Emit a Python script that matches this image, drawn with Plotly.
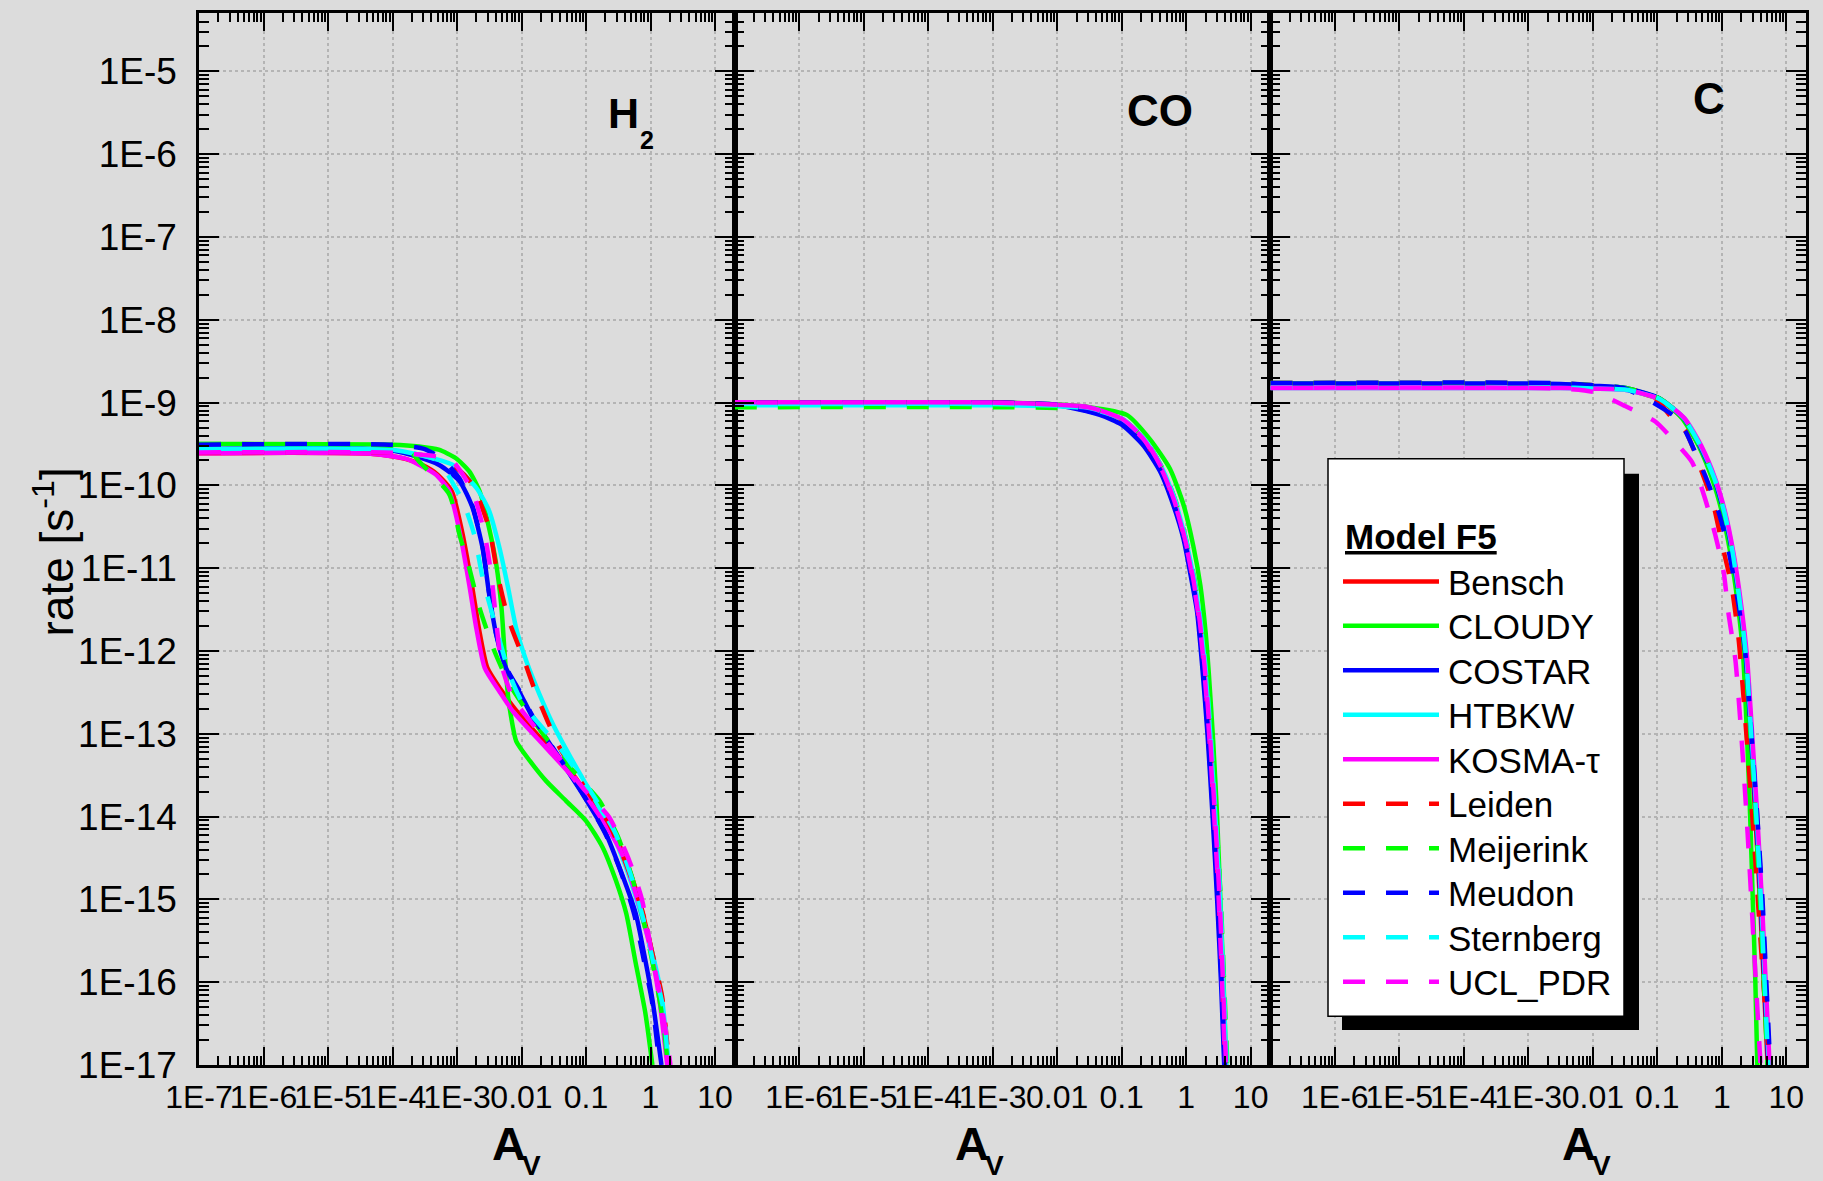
import plotly.graph_objects as go

# ---------------- series metadata ----------------
NAMES = ["Bensch", "CLOUDY", "COSTAR", "HTBKW", "KOSMA-τ",
         "Leiden", "Meijerink", "Meudon", "Sternberg", "UCL_PDR"]
COLORS = ["#ff0000", "#00ff00", "#0000ff", "#00ffff", "#ff00ff",
          "#ff0000", "#00ff00", "#0000ff", "#00ffff", "#ff00ff"]
DASHES = ["solid"] * 5 + ["22px,21px"] * 5

PANEL_LABELS = ["H", "CO", "C"]
X_TICKVALS = [1e-7, 1e-6, 1e-5, 1e-4, 1e-3, 1e-2, 1e-1, 1, 10]
X_TICKTEXT = ["1E-7", "1E-6", "1E-5", "1E-4", "1E-3", "0.01", "0.1", "1", "10"]
Y_TICKVALS = [1e-17, 1e-16, 1e-15, 1e-14, 1e-13, 1e-12, 1e-11, 1e-10, 1e-9, 1e-8, 1e-7, 1e-6, 1e-5]
Y_TICKTEXT = ["1E-17", "1E-16", "1E-15", "1E-14", "1E-13", "1E-12", "1E-11", "1E-10",
              "1E-9", "1E-8", "1E-7", "1E-6", "1E-5"]

# ---------------- H2 panel ----------------
H2_BENSCH_AV = [1e-7, 5.0e-5, 1.58e-4, 2.82e-4, 5.0e-4, 8.3e-4, 1.2e-3, 1.7e-3, 2.19e-3, 2.95e-3, 4.8e-3, 7.9e-3, 0.025, 0.063, 0.115, 0.234, 0.372, 0.603, 1.0, 1.38, 1.86]
H2_BENSCH_RATE = [2.45e-10, 2.4e-10, 2.09e-10, 1.78e-10, 1.35e-10, 8.5e-11, 2.75e-11, 6.3e-12, 1.86e-12, 6.3e-13, 3.4e-13, 2.0e-13, 7.2e-14, 3.2e-14, 1.66e-14, 7.2e-15, 3.7e-15, 1.26e-15, 2.8e-16, 7.1e-17, 1e-17]
H2_CLOUDY_AV = [1e-7, 1e-4, 2.57e-4, 5.2e-4, 9.5e-4, 1.55e-3, 2.24e-3, 3.16e-3, 4.07e-3, 4.9e-3, 5.5e-3, 6.2e-3, 6.9e-3, 8.3e-3, 1.35e-2, 2.4e-2, 4.9e-2, 0.1, 0.18, 0.29, 0.42, 0.59, 0.83, 1.07]
H2_CLOUDY_RATE = [3.16e-10, 3.1e-10, 2.95e-10, 2.7e-10, 2.14e-10, 1.48e-10, 8.5e-11, 3.0e-11, 1.1e-11, 3.3e-12, 8.9e-13, 2.8e-13, 1.6e-13, 8.1e-14, 4.7e-14, 2.7e-14, 1.55e-14, 8.9e-15, 4.3e-15, 1.7e-15, 6.8e-16, 1.7e-16, 4.3e-17, 1e-17]
H2_COSTAR_AV = [1e-7, 1e-4, 5.2e-4, 1.1e-3, 1.74e-3, 2.5e-3, 3.16e-3, 4.07e-3, 5.75e-3, 9.3e-3, 1.51e-2, 2.4e-2, 8.9e-2, 0.204, 0.363, 0.589, 0.83, 1.07, 1.48]
H2_COSTAR_RATE = [2.75e-10, 2.63e-10, 1.78e-10, 1.12e-10, 5.4e-11, 1.74e-11, 4.8e-12, 1.55e-12, 6.2e-13, 3.2e-13, 1.55e-13, 8.9e-14, 1.86e-14, 6.2e-15, 2.0e-15, 6.8e-16, 1.86e-16, 6.2e-17, 1e-17]
H2_HTBKW_AV = [1e-7, 1e-4, 2.57e-4, 8.5e-4, 2.0e-3, 3.16e-3, 4.57e-3, 6.2e-3, 8.3e-3, 1.2e-2, 1.9e-2, 3.1e-2, 7.1e-2, 0.141, 0.257, 0.417, 0.661, 1.07, 1.51, 1.91]
H2_HTBKW_RATE = [2.75e-10, 2.7e-10, 2.34e-10, 1.78e-10, 9.3e-11, 4.9e-11, 1.74e-11, 5.8e-12, 1.86e-12, 7.4e-13, 3.0e-13, 1.29e-13, 3.9e-14, 1.55e-14, 6.2e-15, 2.45e-15, 8.1e-16, 2.24e-16, 6.2e-17, 1e-17]
H2_KOSMA_AV = [1e-7, 5.0e-5, 1.58e-4, 2.57e-4, 4.7e-4, 7.6e-4, 1.1e-3, 1.55e-3, 2.0e-3, 2.7e-3, 4.6e-3, 7.4e-3, 0.024, 0.062, 0.112, 0.229, 0.363, 0.589, 1.0, 1.35, 1.82]
H2_KOSMA_RATE = [2.45e-10, 2.4e-10, 2.1e-10, 1.78e-10, 1.35e-10, 8.5e-11, 2.75e-11, 6.3e-12, 1.86e-12, 6.2e-13, 3.2e-13, 1.86e-13, 6.8e-14, 3.0e-14, 1.55e-14, 6.8e-15, 3.5e-15, 1.17e-15, 2.5e-16, 6.8e-17, 1e-17]
H2_LEIDEN_AV = [1e-7, 1e-4, 3.7e-4, 1e-3, 1.74e-3, 3.16e-3, 4.27e-3, 6.2e-3, 1.12e-2, 1.7e-2, 3.9e-2, 8.9e-2, 0.229, 0.417, 0.741, 1.07, 1.51, 1.95]
H2_LEIDEN_RATE = [2.5e-10, 2.48e-10, 2.24e-10, 1.6e-10, 1.02e-10, 3.0e-11, 8.3e-12, 2.5e-12, 7.4e-13, 3.0e-13, 6.8e-14, 2.45e-14, 8.1e-15, 2.7e-15, 7.4e-16, 2.24e-16, 6.8e-17, 1e-17]
H2_MEIJERINK_AV = [1e-7, 1e-4, 2.0e-4, 2.57e-4, 7.6e-4, 1.1e-3, 1.55e-3, 2.24e-3, 3.8e-3, 6.6e-3, 2.4e-2, 7.1e-2, 0.162, 0.316, 0.525, 0.83, 1.2, 1.58, 1.86]
H2_MEIJERINK_RATE = [3.16e-10, 2.9e-10, 2.45e-10, 1.95e-10, 7.8e-11, 2.5e-11, 1e-11, 3.3e-12, 1e-12, 3.9e-13, 8.9e-14, 3.2e-14, 1.55e-14, 5.6e-15, 1.78e-15, 4.5e-16, 1.12e-16, 3.2e-17, 1e-17]
H2_MEUDON_AV = [1e-7, 1e-4, 3.16e-4, 6.3e-4, 1.1e-3, 1.74e-3, 2.5e-3, 3.16e-3, 4.07e-3, 5.75e-3, 9.3e-3, 1.51e-2, 2.4e-2, 8.9e-2, 0.204, 0.363, 0.562, 0.794, 1.05, 1.38]
H2_MEUDON_RATE = [3.1e-10, 3.1e-10, 2.75e-10, 2.0e-10, 1.2e-10, 5.6e-11, 1.8e-11, 5.0e-12, 1.6e-12, 6.4e-13, 3.3e-13, 1.6e-13, 9.1e-14, 1.9e-14, 6.0e-15, 1.95e-15, 6.5e-16, 1.8e-16, 6.0e-17, 1e-17]
H2_STERNBERG_AV = [1e-7, 1e-4, 5.0e-4, 9.5e-4, 1.23e-3, 1.86e-3, 2.5e-3, 4.07e-3, 6.6e-3, 1.07e-2, 3.9e-2, 0.126, 0.288, 0.525, 0.83, 1.2, 1.62, 1.86]
H2_STERNBERG_RATE = [2.7e-10, 2.65e-10, 2.0e-10, 9.3e-11, 6.5e-11, 2.5e-11, 7.6e-12, 1.86e-12, 5.1e-13, 2.24e-13, 6.8e-14, 1.86e-14, 6.2e-15, 1.7e-15, 4.7e-16, 1.29e-16, 4.3e-17, 1e-17]
H2_UCL_AV = [1e-7, 1e-4, 4.7e-4, 8.5e-4, 1.74e-3, 2.7e-3, 3.4e-3, 4.07e-3, 4.9e-3, 7.4e-3, 2.5e-2, 0.1, 0.229, 0.468, 0.741, 1.0, 1.35, 1.7, 2.04]
H2_UCL_RATE = [2.5e-10, 2.48e-10, 2.24e-10, 1.95e-10, 8.5e-11, 2.5e-11, 8.3e-12, 2.24e-12, 6.8e-13, 2.7e-13, 7.9e-14, 2.0e-14, 9.8e-15, 2.95e-15, 9.8e-16, 2.7e-16, 8.1e-17, 2.7e-17, 1e-17]

# ---------------- CO panel ----------------
CO_BENSCH_AV = [1e-7, 1e-3, 1e-2, 3.16e-2, 0.1, 0.224, 0.417, 0.661, 0.955, 1.26, 1.58, 1.91, 2.29, 2.75, 3.24, 3.63, 4.07]
CO_BENSCH_RATE = [1e-9, 1e-9, 9.3e-10, 8.7e-10, 6.3e-10, 3.55e-10, 1.58e-10, 6.3e-11, 2.24e-11, 7.9e-12, 2.5e-12, 6.3e-13, 1e-13, 1e-14, 1e-15, 1e-16, 1e-17]
CO_CLOUDY_AV = [1e-7, 1e-3, 1e-2, 2.88e-2, 0.12, 0.275, 0.562, 0.912, 1.29, 1.66, 2.0, 2.24, 2.63, 3.02, 3.39, 3.8, 4.17]
CO_CLOUDY_RATE = [1e-9, 1e-9, 9.5e-10, 8.9e-10, 7.1e-10, 3.6e-10, 1.58e-10, 5.8e-11, 1.86e-11, 6.2e-12, 1.7e-12, 5.5e-13, 7.9e-14, 1e-14, 1e-15, 1e-16, 1e-17]
CO_COSTAR_AV = [1e-7, 1e-3, 1e-2, 4.57e-2, 0.1, 0.219, 0.398, 0.631, 0.912, 1.15, 1.48, 1.78, 2.14, 2.57, 3.02, 3.47, 3.89]
CO_COSTAR_RATE = [1e-9, 1e-9, 9.3e-10, 7.1e-10, 5.4e-10, 3.0e-10, 1.45e-10, 5.8e-11, 2.24e-11, 8.9e-12, 2.95e-12, 6.3e-13, 1e-13, 1e-14, 1e-15, 1e-16, 1e-17]
CO_HTBKW_AV = [1e-7, 1e-3, 1e-2, 3.2e-2, 0.102, 0.23, 0.43, 0.68, 0.98, 1.3, 1.63, 1.97, 2.36, 2.84, 3.35, 3.76, 4.2]
CO_HTBKW_RATE = [9.3e-10, 9.3e-10, 9.0e-10, 8.5e-10, 6.3e-10, 3.55e-10, 1.58e-10, 6.3e-11, 2.24e-11, 7.9e-12, 2.5e-12, 6.3e-13, 1e-13, 1e-14, 1e-15, 1e-16, 1e-17]
CO_KOSMA_AV = [1e-7, 1e-3, 1e-2, 3.1e-2, 0.098, 0.22, 0.41, 0.65, 0.94, 1.24, 1.56, 1.89, 2.27, 2.72, 3.2, 3.6, 4.02]
CO_KOSMA_RATE = [1e-9, 1e-9, 9.4e-10, 8.8e-10, 6.4e-10, 3.6e-10, 1.6e-10, 6.4e-11, 2.3e-11, 8.1e-12, 2.6e-12, 6.5e-13, 1e-13, 1e-14, 1e-15, 1e-16, 1e-17]
CO_LEIDEN_AV = [1e-7, 1e-3, 1e-2, 3.16e-2, 0.1, 0.224, 0.42, 0.67, 0.96, 1.27, 1.6, 1.93, 2.31, 2.78, 3.27, 3.68, 4.1]
CO_LEIDEN_RATE = [1e-9, 1e-9, 9.3e-10, 8.6e-10, 6.2e-10, 3.5e-10, 1.55e-10, 6.2e-11, 2.2e-11, 7.8e-12, 2.5e-12, 6.3e-13, 1e-13, 1e-14, 1e-15, 1e-16, 1e-17]
CO_MEIJERINK_AV = [1e-7, 1e-3, 1e-2, 3.3e-2, 0.105, 0.235, 0.44, 0.7, 1.0, 1.33, 1.67, 2.02, 2.42, 2.92, 3.44, 3.88, 4.35]
CO_MEIJERINK_RATE = [8.8e-10, 8.8e-10, 8.6e-10, 8.2e-10, 6.2e-10, 3.5e-10, 1.55e-10, 6.2e-11, 2.2e-11, 7.8e-12, 2.5e-12, 6.3e-13, 1e-13, 1e-14, 1e-15, 1e-16, 1e-17]
CO_MEUDON_AV = [1e-7, 1e-3, 1e-2, 4.5e-2, 0.1, 0.22, 0.40, 0.64, 0.93, 1.18, 1.51, 1.82, 2.19, 2.63, 3.09, 3.55, 3.98]
CO_MEUDON_RATE = [1e-9, 1e-9, 9.4e-10, 7.3e-10, 5.6e-10, 3.1e-10, 1.5e-10, 6.0e-11, 2.3e-11, 9.0e-12, 3.0e-12, 6.3e-13, 1e-13, 1e-14, 1e-15, 1e-16, 1e-17]
CO_STERNBERG_AV = [1e-7, 1e-3, 1e-2, 3.2e-2, 0.104, 0.232, 0.435, 0.69, 0.99, 1.31, 1.65, 2.0, 2.4, 2.88, 3.4, 3.82, 4.27]
CO_STERNBERG_RATE = [9.6e-10, 9.6e-10, 9.2e-10, 8.6e-10, 6.3e-10, 3.55e-10, 1.58e-10, 6.3e-11, 2.24e-11, 7.9e-12, 2.5e-12, 6.3e-13, 1e-13, 1e-14, 1e-15, 1e-16, 1e-17]
CO_UCL_AV = [1e-7, 1e-3, 1e-2, 3.16e-2, 0.1, 0.226, 0.42, 0.665, 0.96, 1.27, 1.6, 1.94, 2.33, 2.8, 3.3, 3.72, 4.15]
CO_UCL_RATE = [1.01e-9, 1.0e-9, 9.4e-10, 8.7e-10, 6.4e-10, 3.6e-10, 1.6e-10, 6.3e-11, 2.24e-11, 7.9e-12, 2.5e-12, 6.3e-13, 1e-13, 1e-14, 1e-15, 1e-16, 1e-17]

# ---------------- C panel ----------------
C_BENSCH_AV = [1e-7, 3.16e-3, 1e-2, 3.2e-2, 0.105, 0.245, 0.45, 0.74, 1.04, 1.41, 1.86, 2.29, 2.75, 3.31, 3.89, 4.47, 5.13]
C_BENSCH_RATE = [1.6e-9, 1.6e-9, 1.55e-9, 1.45e-9, 1.1e-9, 6.5e-10, 3.0e-10, 1.2e-10, 4.8e-11, 1.55e-11, 3.55e-12, 8.7e-13, 1e-13, 1e-14, 1e-15, 1e-16, 1e-17]
C_CLOUDY_AV = [1e-7, 3.16e-3, 1e-2, 3.24e-2, 0.107, 0.24, 0.437, 0.708, 1.0, 1.35, 1.78, 2.14, 2.45, 2.75, 3.02, 3.31, 3.55]
C_CLOUDY_RATE = [1.7e-9, 1.66e-9, 1.58e-9, 1.48e-9, 1.12e-9, 6.5e-10, 3.0e-10, 1.2e-10, 4.8e-11, 1.55e-11, 3.55e-12, 8.7e-13, 1e-13, 1e-14, 1e-15, 1e-16, 1e-17]
C_COSTAR_AV = [1e-7, 3.16e-3, 1e-2, 3.24e-2, 0.107, 0.251, 0.457, 0.759, 1.07, 1.45, 1.91, 2.34, 2.82, 3.39, 3.98, 4.57, 5.25]
C_COSTAR_RATE = [1.7e-9, 1.68e-9, 1.6e-9, 1.5e-9, 1.13e-9, 6.6e-10, 3.0e-10, 1.2e-10, 4.8e-11, 1.55e-11, 3.55e-12, 8.7e-13, 1e-13, 1e-14, 1e-15, 1e-16, 1e-17]
C_HTBKW_AV = [1e-7, 3.16e-3, 1e-2, 3.3e-2, 0.11, 0.258, 0.47, 0.78, 1.1, 1.48, 1.95, 2.4, 2.88, 3.47, 4.07, 4.68, 5.37]
C_HTBKW_RATE = [1.5e-9, 1.5e-9, 1.47e-9, 1.42e-9, 1.1e-9, 6.5e-10, 3.0e-10, 1.2e-10, 4.8e-11, 1.55e-11, 3.55e-12, 8.7e-13, 1e-13, 1e-14, 1e-15, 1e-16, 1e-17]
C_KOSMA_AV = [1e-7, 3.16e-3, 1e-2, 3.3e-2, 0.11, 0.262, 0.48, 0.79, 1.12, 1.51, 2.0, 2.45, 2.95, 3.55, 4.17, 4.79, 5.5]
C_KOSMA_RATE = [1.5e-9, 1.5e-9, 1.47e-9, 1.42e-9, 1.1e-9, 6.5e-10, 3.0e-10, 1.2e-10, 4.8e-11, 1.55e-11, 3.55e-12, 8.7e-13, 1e-13, 1e-14, 1e-15, 1e-16, 1e-17]
C_LEIDEN_AV = [1e-7, 3.16e-3, 1e-2, 5.0e-2, 0.1, 0.17, 0.275, 0.49, 0.741, 1.0, 1.41, 1.82, 2.4, 3.16, 3.98, 4.79, 5.5]
C_LEIDEN_RATE = [1.72e-9, 1.7e-9, 1.62e-9, 1.38e-9, 1.05e-9, 6.5e-10, 4.5e-10, 1.45e-10, 5.8e-11, 2.0e-11, 6.2e-12, 1.4e-12, 1e-13, 5e-15, 3.2e-16, 4e-17, 1e-17]
C_MEIJERINK_AV = [1e-7, 3.16e-3, 1e-2, 3.24e-2, 0.107, 0.25, 0.455, 0.75, 1.06, 1.43, 1.89, 2.3, 2.78, 3.33, 3.9, 4.47, 5.1]
C_MEIJERINK_RATE = [1.72e-9, 1.7e-9, 1.62e-9, 1.5e-9, 1.13e-9, 6.6e-10, 3.0e-10, 1.2e-10, 4.8e-11, 1.55e-11, 3.55e-12, 8.7e-13, 1e-13, 1e-14, 1e-15, 1e-16, 1e-17]
C_MEUDON_AV = [1e-7, 3.16e-3, 1e-2, 3.0e-2, 8.3e-2, 0.2, 0.275, 0.55, 0.89, 1.26, 1.82, 2.34, 2.88, 3.55, 4.27, 4.9, 5.62]
C_MEUDON_RATE = [1.72e-9, 1.72e-9, 1.62e-9, 1.5e-9, 1.02e-9, 6.5e-10, 4.47e-10, 1.32e-10, 4.8e-11, 1.7e-11, 3.55e-12, 8.7e-13, 1e-13, 1e-14, 1e-15, 1e-16, 1e-17]
C_STERNBERG_AV = [1e-7, 3.16e-3, 1e-2, 3.3e-2, 0.11, 0.255, 0.465, 0.77, 1.09, 1.47, 1.93, 2.37, 2.85, 3.43, 4.03, 4.6, 5.25]
C_STERNBERG_RATE = [1.52e-9, 1.52e-9, 1.48e-9, 1.43e-9, 1.1e-9, 6.5e-10, 3.0e-10, 1.2e-10, 4.8e-11, 1.55e-11, 3.55e-12, 8.7e-13, 1e-13, 1e-14, 1e-15, 1e-16, 1e-17]
C_UCL_AV = [1e-7, 3.16e-3, 1e-2, 3.16e-2, 9.3e-2, 0.191, 0.347, 0.55, 0.794, 1.07, 1.26, 1.62, 2.0, 2.51, 3.16, 3.98]
C_UCL_RATE = [1.51e-9, 1.48e-9, 1.35e-9, 9.1e-10, 5.9e-10, 3.3e-10, 1.9e-10, 6.9e-11, 2.5e-11, 8.9e-12, 2.95e-12, 7.9e-13, 1e-13, 6.3e-15, 2.5e-16, 1e-17]

PANELS = [
    [(H2_BENSCH_AV, H2_BENSCH_RATE), (H2_CLOUDY_AV, H2_CLOUDY_RATE), (H2_COSTAR_AV, H2_COSTAR_RATE),
     (H2_HTBKW_AV, H2_HTBKW_RATE), (H2_KOSMA_AV, H2_KOSMA_RATE), (H2_LEIDEN_AV, H2_LEIDEN_RATE),
     (H2_MEIJERINK_AV, H2_MEIJERINK_RATE), (H2_MEUDON_AV, H2_MEUDON_RATE),
     (H2_STERNBERG_AV, H2_STERNBERG_RATE), (H2_UCL_AV, H2_UCL_RATE)],
    [(CO_BENSCH_AV, CO_BENSCH_RATE), (CO_CLOUDY_AV, CO_CLOUDY_RATE), (CO_COSTAR_AV, CO_COSTAR_RATE),
     (CO_HTBKW_AV, CO_HTBKW_RATE), (CO_KOSMA_AV, CO_KOSMA_RATE), (CO_LEIDEN_AV, CO_LEIDEN_RATE),
     (CO_MEIJERINK_AV, CO_MEIJERINK_RATE), (CO_MEUDON_AV, CO_MEUDON_RATE),
     (CO_STERNBERG_AV, CO_STERNBERG_RATE), (CO_UCL_AV, CO_UCL_RATE)],
    [(C_BENSCH_AV, C_BENSCH_RATE), (C_CLOUDY_AV, C_CLOUDY_RATE), (C_COSTAR_AV, C_COSTAR_RATE),
     (C_HTBKW_AV, C_HTBKW_RATE), (C_KOSMA_AV, C_KOSMA_RATE), (C_LEIDEN_AV, C_LEIDEN_RATE),
     (C_MEIJERINK_AV, C_MEIJERINK_RATE), (C_MEUDON_AV, C_MEUDON_RATE),
     (C_STERNBERG_AV, C_STERNBERG_RATE), (C_UCL_AV, C_UCL_RATE)],
]

# ---------------- layout geometry (pixels) ----------------
W, H = 1823, 1181
PL, PR, PT, PB = 199, 1806, 10, 1065
FONT = "Arial, Liberation Sans, sans-serif"
BG = "#dcdcdc"


def fx(x):
    return (x - PL) / (PR - PL)


def fy(y):
    return (PB - y) / (PB - PT)


X_MINOR = [k * 10.0 ** n for n in range(-7, 2) for k in range(2, 10) if k * 10.0 ** n < 19.9]
Y_MINOR = [k * 10.0 ** n for n in range(-17, -4) for k in range(2, 10) if k * 10.0 ** n < 5.06e-5]

fig = go.Figure()
for p, series in enumerate(PANELS):
    xa = "x" if p == 0 else f"x{p + 1}"
    ya = "y" if p == 0 else f"y{p + 1}"
    for i, (av, rate) in enumerate(series):
        fig.add_trace(go.Scatter(
            x=av, y=rate, mode="lines", name=NAMES[i], showlegend=False,
            xaxis=xa, yaxis=ya,
            line=dict(color=COLORS[i], width=4.5, dash=DASHES[i], shape="spline", smoothing=0.6),
            hoverinfo="skip"))

layout = dict(
    width=W, height=H,
    margin=dict(l=PL, r=W - PR, t=PT, b=H - PB, pad=0),
    paper_bgcolor=BG, plot_bgcolor=BG,
    showlegend=False,
    font=dict(family=FONT, color="black"),
)

for p in range(3):
    xkey = "xaxis" if p == 0 else f"xaxis{p + 1}"
    ykey = "yaxis" if p == 0 else f"yaxis{p + 1}"
    xname = "x" if p == 0 else f"x{p + 1}"
    yname = "y" if p == 0 else f"y{p + 1}"
    tv = X_TICKVALS if p == 0 else X_TICKVALS[1:]
    tt = X_TICKTEXT if p == 0 else X_TICKTEXT[1:]
    layout[xkey] = dict(
        type="log", range=[-7, 1.305], domain=[p / 3, (p + 1) / 3], anchor=yname,
        showline=True, linecolor="black", linewidth=2.5, mirror="allticks",
        ticks="inside", ticklen=18, tickwidth=2, tickcolor="black",
        tickmode="array", tickvals=tv, ticktext=tt, tickangle=0,
        tickfont=dict(family=FONT, size=32, color="black"), ticklabelstandoff=2,
        showgrid=True, gridcolor="#b4b4b4", griddash="dot", gridwidth=1.5, zeroline=False,
        minor=dict(ticks="inside", ticklen=9, tickwidth=1.5, tickcolor="black",
                   tickmode="array", tickvals=X_MINOR, showgrid=False),
    )
    layout[ykey] = dict(
        type="log", range=[-17, -4.295], domain=[0, 1], anchor=xname,
        showline=True, linecolor="black", linewidth=2.5, mirror="allticks",
        ticks="inside", ticklen=20, tickwidth=2, tickcolor="black",
        tickmode="array", tickvals=Y_TICKVALS, ticktext=Y_TICKTEXT,
        showticklabels=(p == 0),
        tickfont=dict(family=FONT, size=37, color="black"), ticklabelstandoff=12,
        showgrid=True, gridcolor="#b4b4b4", griddash="dot", gridwidth=1.5, zeroline=False,
        minor=dict(ticks="inside", ticklen=10, tickwidth=1.5, tickcolor="black",
                   tickmode="array", tickvals=Y_MINOR, showgrid=False),
    )

fig.update_layout(**layout)

annotations = []
# y axis title
annotations.append(dict(text="rate [s<sup>-1</sup>]", x=fx(54), y=fy(551), xref="paper", yref="paper",
                        xanchor="center", yanchor="middle", textangle=-90, showarrow=False,
                        font=dict(family=FONT, size=46, color="black")))
# x axis titles A_V
for a_left in [494, 957, 1564]:
    annotations.append(dict(text="<b>A</b>", x=fx(a_left - 4), y=fy(1115), xref="paper", yref="paper",
                            xanchor="left", yanchor="top", showarrow=False,
                            font=dict(family=FONT, size=47, color="black")))
    annotations.append(dict(text="<b>V</b>", x=fx(a_left + 26), y=fy(1148), xref="paper", yref="paper",
                            xanchor="left", yanchor="top", showarrow=False,
                            font=dict(family=FONT, size=28, color="black")))
# panel labels
annotations.append(dict(text="<b>" + PANEL_LABELS[0] + "</b>", x=fx(606), y=fy(84), xref="paper", yref="paper",
                        xanchor="left", yanchor="top", showarrow=False, font=dict(family=FONT, size=43, color="black")))
annotations.append(dict(text="<b>2</b>", x=fx(638), y=fy(121), xref="paper", yref="paper",
                        xanchor="left", yanchor="top", showarrow=False, font=dict(family=FONT, size=25, color="black")))
annotations.append(dict(text="<b>" + PANEL_LABELS[1] + "</b>", x=fx(1125), y=fy(81), xref="paper", yref="paper",
                        xanchor="left", yanchor="top", showarrow=False, font=dict(family=FONT, size=44, color="black")))
annotations.append(dict(text="<b>" + PANEL_LABELS[2] + "</b>", x=fx(1691), y=fy(69), xref="paper", yref="paper",
                        xanchor="left", yanchor="top", showarrow=False, font=dict(family=FONT, size=44, color="black")))

# legend (drawn manually)
shapes = []
shapes.append(dict(type="rect", xref="paper", yref="paper", x0=fx(1342), x1=fx(1639), y0=fy(1030), y1=fy(472),
                   fillcolor="black", line=dict(width=0), layer="above"))
shapes.append(dict(type="rect", xref="paper", yref="paper", x0=fx(1328), x1=fx(1624), y0=fy(1016), y1=fy(457),
                   fillcolor="white", line=dict(color="black", width=1.5), layer="above"))
annotations.append(dict(text="<b><u>Model F5</u></b>", x=fx(1343), y=fy(535), xref="paper", yref="paper",
                        xanchor="left", yanchor="middle", showarrow=False,
                        font=dict(family=FONT, size=35, color="black")))
LEG_Y0, LEG_DY = 580, 44.6
for i, name in enumerate(NAMES):
    yy = LEG_Y0 + i * LEG_DY
    shapes.append(dict(type="line", xref="paper", yref="paper", x0=fx(1343), x1=fx(1439), y0=fy(yy), y1=fy(yy),
                       line=dict(color=COLORS[i], width=4.5, dash=DASHES[i]), layer="above"))
    annotations.append(dict(text=name, x=fx(1446), y=fy(yy + 1), xref="paper", yref="paper",
                            xanchor="left", yanchor="middle", showarrow=False,
                            font=dict(family=FONT, size=35, color="black")))

fig.update_layout(annotations=annotations, shapes=shapes)
fig.write_html(
    "out.html",
    config={"displayModeBar": False},
    post_script="document.body.style.margin='0';document.body.style.padding='0';"
                "document.body.style.overflow='hidden';document.documentElement.style.overflow='hidden';",
)
